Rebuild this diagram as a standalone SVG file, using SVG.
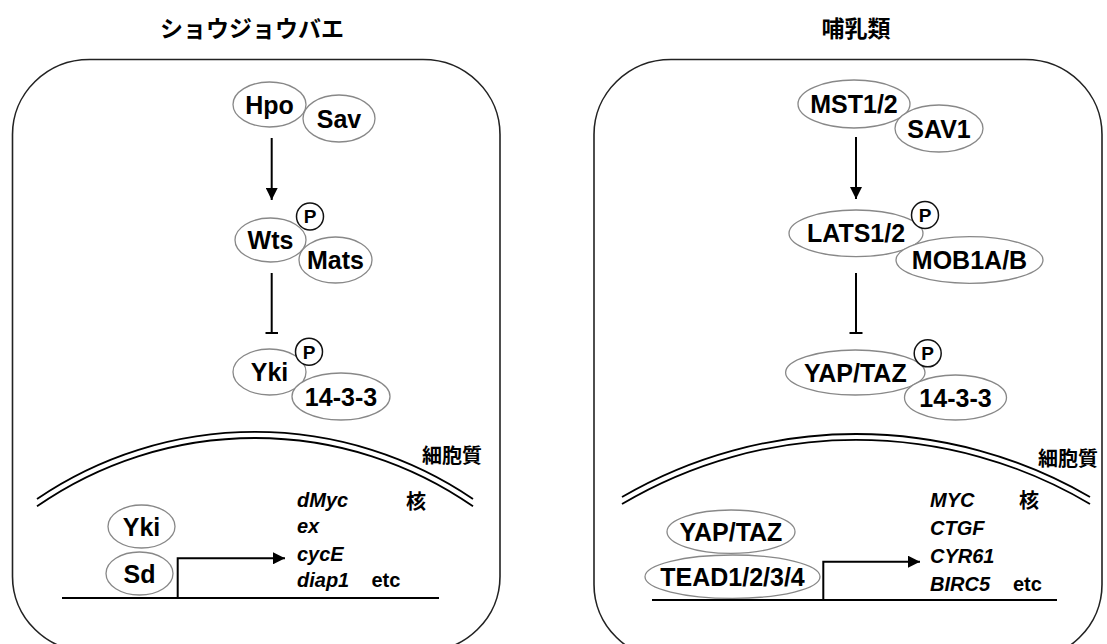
<svg xmlns="http://www.w3.org/2000/svg" width="1107" height="644" viewBox="0 0 1107 644">
  <style>
    .cell { fill: none; stroke: #222; stroke-width: 1.6; }
    .mol { fill: #fff; stroke: #888; stroke-width: 1.3; }
    .phos { fill: #fff; stroke: #111; stroke-width: 1.5; }
    .lbl { font-family: "Liberation Sans", Arial, sans-serif; font-weight: bold; font-size: 25px; fill: #000; text-anchor: middle; }
    .plbl { font-family: "Liberation Sans", Arial, sans-serif; font-weight: bold; font-size: 19px; fill: #000; text-anchor: middle; }
    .gene { font-family: "Liberation Sans", Arial, sans-serif; font-weight: bold; font-style: italic; font-size: 20px; fill: #000; }
    .etc { font-family: "Liberation Sans", Arial, sans-serif; font-weight: bold; font-size: 20px; fill: #000; }
    .jp { font-family: "Noto Sans CJK JP", "Noto Sans CJK SC", sans-serif; font-weight: bold; fill: #000; }
    .title { font-size: 23px; text-anchor: middle; }
    .small { font-size: 20px; }
    .line { fill: none; stroke: #000; stroke-width: 2; }
    .mem { fill: none; stroke: #000; stroke-width: 1.8; }
  </style>
  <defs>
    <marker id="arrow" viewBox="0 0 12 12" refX="12" refY="6" markerWidth="12" markerHeight="12" markerUnits="userSpaceOnUse" orient="auto">
      <path d="M0,0 L12,6 L0,12 Z" fill="#000"/>
    </marker>
  </defs>

  <rect width="1107" height="644" fill="#fff"/>

  <!-- titles -->
  <text class="jp title" x="252" y="37">ショウジョウバエ</text>
  <text class="jp title" x="856" y="37">哺乳類</text>

  <!-- cell outlines -->
  <rect id="cell-fly" class="cell" x="12.5" y="59.5" width="487.5" height="592" rx="77" ry="75"/>
  <rect id="cell-mammal" class="cell" x="594" y="59.5" width="508" height="600" rx="77" ry="75"/>

  <!-- nuclear envelopes -->
  <g id="nucleus-fly">
    <path class="mem" d="M37,499 A388,388 0 0 1 473,499"/>
    <path class="mem" d="M37,506.3 A382,382 0 0 1 473,506.3"/>
  </g>
  <g id="nucleus-mammal">
    <path class="mem" d="M622,497 A466,466 0 0 1 1090,497"/>
    <path class="mem" d="M622,504 A459,459 0 0 1 1090,504"/>
  </g>

  <!-- compartment labels -->
  <text class="jp small" x="452" y="463" text-anchor="middle">細胞質</text>
  <text class="jp small" x="416" y="509" text-anchor="middle">核</text>
  <text class="jp small" x="1068" y="466" text-anchor="middle">細胞質</text>
  <text class="jp small" x="1029" y="508" text-anchor="middle">核</text>

  <!-- connectors -->
  <g id="connectors">
    <line class="line" x1="271.7" y1="138" x2="271.7" y2="200" marker-end="url(#arrow)"/>
    <line class="line" x1="271.7" y1="273" x2="271.7" y2="333"/>
    <line class="line" x1="265.5" y1="333" x2="278" y2="333"/>
    <line class="line" x1="856" y1="137" x2="856" y2="199" marker-end="url(#arrow)"/>
    <line class="line" x1="856" y1="273" x2="856" y2="333"/>
    <line class="line" x1="849.5" y1="333" x2="862.5" y2="333"/>
    <!-- DNA and promoter arrows -->
    <line class="line" x1="62" y1="598" x2="439" y2="598"/>
    <path class="line" d="M177.7,598 V558.3 H285" marker-end="url(#arrow)"/>
    <line class="line" x1="652" y1="600" x2="1057" y2="600"/>
    <path class="line" d="M823.3,600 V561.7 H920" marker-end="url(#arrow)"/>
  </g>

  <!-- fly nodes -->
  <g id="hpo"><ellipse class="mol" cx="269.5" cy="104.5" rx="36.5" ry="22.5"/><text class="lbl" x="269.5" y="113.5">Hpo</text></g>
  <g id="sav"><ellipse class="mol" cx="339" cy="118.5" rx="36" ry="23.5"/><text class="lbl" x="339" y="127.5">Sav</text></g>
  <g id="wts"><ellipse class="mol" cx="270.5" cy="240" rx="35.5" ry="22"/><text class="lbl" x="270.5" y="249">Wts</text></g>
  <g id="wts-p"><circle class="phos" cx="310" cy="216.5" r="13.5"/><text class="plbl" x="310" y="223.3">P</text></g>
  <g id="mats"><ellipse class="mol" cx="335.5" cy="260" rx="36.5" ry="23"/><text class="lbl" x="335.5" y="269">Mats</text></g>
  <g id="yki"><ellipse class="mol" cx="269.5" cy="372" rx="36.5" ry="23"/><text class="lbl" x="269.5" y="381">Yki</text></g>
  <g id="yki-p"><circle class="phos" cx="309" cy="351.7" r="13.5"/><text class="plbl" x="309" y="358.5">P</text></g>
  <g id="fly-1433"><ellipse class="mol" cx="341" cy="396.5" rx="49" ry="23.5"/><text class="lbl" x="341" y="405.5">14-3-3</text></g>
  <g id="yki-nuc"><ellipse class="mol" cx="141.5" cy="526.5" rx="33.5" ry="21.5"/><text class="lbl" x="141.5" y="535.5">Yki</text></g>
  <g id="sd"><ellipse class="mol" cx="139.5" cy="573.5" rx="33.5" ry="21.5"/><text class="lbl" x="139.5" y="582.5">Sd</text></g>
  <g id="fly-genes">
    <text class="gene" x="297" y="507">dMyc</text>
    <text class="gene" x="297" y="533">ex</text>
    <text class="gene" x="297" y="561">cycE</text>
    <text class="gene" x="297" y="587">diap1</text>
    <text class="etc" x="371.5" y="587">etc</text>
  </g>

  <!-- mammal nodes -->
  <g id="mst"><ellipse class="mol" cx="854" cy="104" rx="56" ry="24"/><text class="lbl" x="854" y="113">MST1/2</text></g>
  <g id="sav1"><ellipse class="mol" cx="939" cy="128.5" rx="44" ry="23.5"/><text class="lbl" x="939" y="137.5">SAV1</text></g>
  <g id="lats"><ellipse class="mol" cx="856" cy="233.3" rx="67" ry="23.3"/><text class="lbl" x="856" y="242.3">LATS1/2</text></g>
  <g id="lats-p"><circle class="phos" cx="925" cy="215" r="13.5"/><text class="plbl" x="925" y="221.8">P</text></g>
  <g id="mob"><ellipse class="mol" cx="969.5" cy="260" rx="73.5" ry="23.3"/><text class="lbl" x="969.5" y="269">MOB1A/B</text></g>
  <g id="yaptaz"><ellipse class="mol" cx="855.3" cy="372.5" rx="69.7" ry="22.5"/><text class="lbl" x="855.3" y="381.5">YAP/TAZ</text></g>
  <g id="yaptaz-p"><circle class="phos" cx="927.7" cy="353.3" r="13.5"/><text class="plbl" x="927.7" y="360.1">P</text></g>
  <g id="mam-1433"><ellipse class="mol" cx="955.5" cy="397.5" rx="51" ry="22.5"/><text class="lbl" x="955.5" y="406.5">14-3-3</text></g>
  <g id="yaptaz-nuc"><ellipse class="mol" cx="731" cy="531.7" rx="64" ry="21.7"/><text class="lbl" x="731" y="540.7">YAP/TAZ</text></g>
  <g id="tead"><ellipse class="mol" cx="732.5" cy="576.7" rx="87.5" ry="21.7"/><text class="lbl" x="732.5" y="585.7">TEAD1/2/3/4</text></g>
  <g id="mam-genes">
    <text class="gene" x="930" y="507" font-size="21">MYC</text>
    <text class="gene" x="930" y="535" font-size="21">CTGF</text>
    <text class="gene" x="930" y="563" font-size="21">CYR61</text>
    <text class="gene" x="930" y="591" font-size="21">BIRC5</text>
    <text class="etc" x="1013" y="591">etc</text>
  </g>
</svg>
